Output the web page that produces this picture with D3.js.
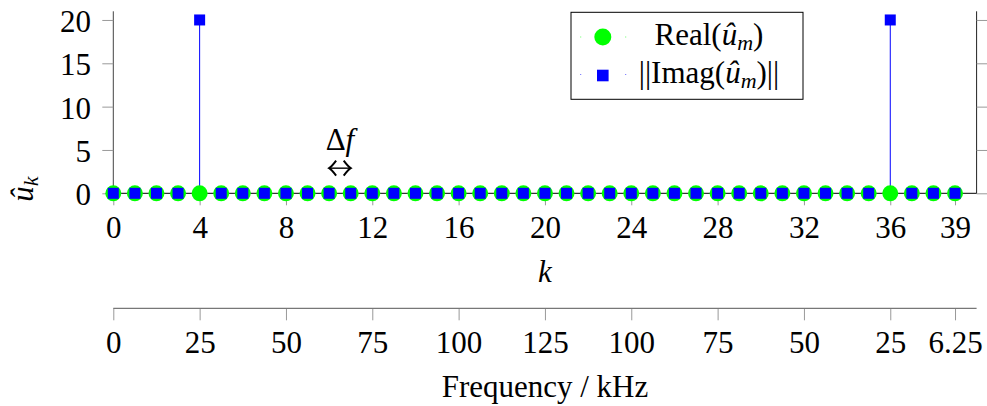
<!DOCTYPE html>
<html>
<head>
<meta charset="utf-8">
<script src="https://cdn.jsdelivr.net/npm/d3@7"></script>
</head>
<body style="margin:0">
<svg id="chart" width="987" height="406"></svg>
<script>
// ---- data ----
const kValues = [0,1,2,3,4,5,6,7,8,9,10,11,12,13,14,15,16,17,18,19,20,21,22,23,24,25,26,27,28,29,30,31,32,33,34,35,36,37,38,39];
const realValues = [0,0,0,0,0,0,0,0,0,0,0,0,0,0,0,0,0,0,0,0,0,0,0,0,0,0,0,0,0,0,0,0,0,0,0,0,0,0,0,0];
const imagValues = [0,0,0,0,20,0,0,0,0,0,0,0,0,0,0,0,0,0,0,0,0,0,0,0,0,0,0,0,0,0,0,0,0,0,0,0,20,0,0,0];
const kTicks = [0,4,8,12,16,20,24,28,32,36,39];
const freqTickLabels = ["0","25","50","75","100","125","100","75","50","25","6.25"];
const yTicks = [0,5,10,15,20];
const deltaF = [10, 11];

// ---- layout ----
const FONT = "Liberation Serif";
const svg = d3.select("#chart");
const FS = 31;
const x = d3.scaleLinear().domain([0, 40]).range([113.3, 976.6]);
const y = d3.scaleLinear().domain([0, 21]).range([193.3, 11.3]);
const freqAxisY = 308.3;

function txt(sel) {
  return sel.attr("font-family", FONT).style("font-family", FONT).attr("font-size", FS).attr("fill", "#000");
}
function styleAxis(g) {
  g.attr("font-family", null).attr("font-size", null);
  g.select(".domain").remove();
  g.selectAll(".tick line").attr("stroke", "#999");
  txt(g.selectAll("text"));
}

// left & right axis lines
svg.append("line").attr("x1", x(0)).attr("x2", x(0)).attr("y1", y(0)).attr("y2", y(21))
  .attr("stroke", "#444").attr("stroke-width", 1);
svg.append("line").attr("x1", x(40)).attr("x2", x(40)).attr("y1", y(0)).attr("y2", y(21))
  .attr("stroke", "#222").attr("stroke-width", 1);

// left y axis
const yAxis = svg.append("g").attr("transform", `translate(${x(0)},0)`)
  .call(d3.axisLeft(y).tickValues(yTicks).tickSize(11).tickPadding(11.3));
styleAxis(yAxis);
yAxis.selectAll("text").attr("dy", "0.37em");

// right y axis (ticks only, outward)
const yAxisR = svg.append("g").attr("transform", `translate(${x(40)},0)`)
  .call(d3.axisRight(y).tickValues(yTicks).tickSize(11).tickFormat(""));
styleAxis(yAxisR);

// x axis (k) at y=0
const xAxis = svg.append("g").attr("transform", `translate(0,${y(0)})`)
  .call(d3.axisBottom(x).tickValues(kTicks).tickSize(12).tickPadding(10.7));
styleAxis(xAxis);
svg.append("line").attr("x1", x(0)).attr("x2", x(40)).attr("y1", y(0)).attr("y2", y(0))
  .attr("stroke", "#000").attr("stroke-width", 1);

// frequency axis
const fAxis = svg.append("g").attr("transform", `translate(0,${freqAxisY})`)
  .call(d3.axisBottom(x).tickValues(kTicks).tickSize(12).tickPadding(10.2)
    .tickFormat((d, i) => freqTickLabels[i]));
styleAxis(fAxis);
svg.append("line").attr("x1", x(0)).attr("x2", x(40)).attr("y1", freqAxisY).attr("y2", freqAxisY)
  .attr("stroke", "#777").attr("stroke-width", 1.3);

// stems (imag)
svg.append("g").selectAll("line").data(kValues.filter((k, i) => imagValues[i] !== 0)).join("line")
  .attr("x1", k => x(k)).attr("x2", k => x(k))
  .attr("y1", y(0)).attr("y2", k => y(imagValues[kValues.indexOf(k)]))
  .attr("stroke", "#0000ff").attr("stroke-width", 1);

// real markers
svg.append("g").selectAll("circle").data(kValues).join("circle")
  .attr("cx", k => x(k)).attr("cy", (k, i) => y(realValues[i])).attr("r", 8)
  .attr("fill", "#00ff00");

// imag markers
const SQ = 11;
svg.append("g").selectAll("rect").data(kValues).join("rect")
  .attr("x", k => x(k) - SQ / 2).attr("y", (k, i) => y(imagValues[i]) - SQ / 2)
  .attr("width", SQ).attr("height", SQ).attr("fill", "#0000ff");

// axis labels
txt(svg.append("text")).attr("x", x(20)).attr("y", 281.7).attr("text-anchor", "middle")
  .attr("font-style", "italic").text("k");
txt(svg.append("text")).attr("x", x(20)).attr("y", 396.5).attr("text-anchor", "middle")
  .text("Frequency / kHz");

const yl = txt(svg.append("text")).attr("transform", "translate(33,189) rotate(-90)")
  .attr("text-anchor", "middle");
yl.append("tspan").attr("font-style", "italic").text("û");
yl.append("tspan").attr("font-style", "italic").attr("font-size", 22).attr("dy", 5).text("k");

// delta f annotation
const df = txt(svg.append("text")).attr("x", x((deltaF[0] + deltaF[1]) / 2)).attr("y", y(5))
  .attr("text-anchor", "middle");
df.append("tspan").text("Δ");
df.append("tspan").attr("font-style", "italic").text("f");

const ay = y(2.9);
const ax0 = x(deltaF[0]), ax1 = x(deltaF[1]);
svg.append("line").attr("x1", ax0 + 1).attr("x2", ax1 - 1).attr("y1", ay).attr("y2", ay)
  .attr("stroke", "#000").attr("stroke-width", 1.4);
const head = (tx, dir) => `M${tx + dir * 7},${ay - 7.5} Q${tx + dir * 2.5},${ay - 1.5} ${tx},${ay} Q${tx + dir * 2.5},${ay + 1.5} ${tx + dir * 7},${ay + 7.5}`;
svg.append("path").attr("d", head(ax0, 1)).attr("fill", "none").attr("stroke", "#000").attr("stroke-width", 2);
svg.append("path").attr("d", head(ax1, -1)).attr("fill", "none").attr("stroke", "#000").attr("stroke-width", 2);

// legend
const lg = svg.append("g");
lg.append("rect").attr("x", 571).attr("y", 12.3).attr("width", 232).attr("height", 87)
  .attr("fill", "#fff").attr("stroke", "#000").attr("stroke-width", 1);
[580.7, 625.7].forEach(px => {
  lg.append("rect").attr("x", px - 0.5).attr("y", 36.5).attr("width", 1).attr("height", 1).attr("fill", "#00ff00").attr("opacity", 0.6);
  lg.append("rect").attr("x", px - 0.5).attr("y", 74).attr("width", 1).attr("height", 1).attr("fill", "#0000ff").attr("opacity", 0.6);
});
lg.append("circle").attr("cx", 602.8).attr("cy", 37).attr("r", 8.5).attr("fill", "#00ff00");
lg.append("rect").attr("x", 602.8 - 5.8).attr("y", 75.5 - 5.8).attr("width", 11.6).attr("height", 11.6).attr("fill", "#0000ff");

const t1 = txt(lg.append("text")).attr("x", 709).attr("y", 45).attr("text-anchor", "middle");
t1.append("tspan").text("Real(");
t1.append("tspan").attr("font-style", "italic").text("û");
t1.append("tspan").attr("font-style", "italic").attr("font-size", 22).attr("dy", 5).text("m");
t1.append("tspan").attr("dy", -5).text(")");

const t2 = txt(lg.append("text")).attr("x", 709).attr("y", 83.3).attr("text-anchor", "middle");
t2.append("tspan").text("||Imag(");
t2.append("tspan").attr("font-style", "italic").text("û");
t2.append("tspan").attr("font-style", "italic").attr("font-size", 22).attr("dy", 5).text("m");
t2.append("tspan").attr("dy", -5).text(")||");
</script>
</body>
</html>
